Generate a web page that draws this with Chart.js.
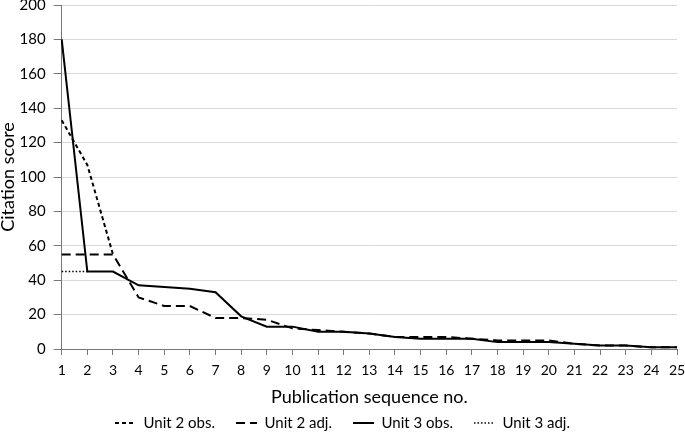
<!DOCTYPE html>
<html>
<head>
<meta charset="utf-8">
<script src="https://cdn.jsdelivr.net/npm/chart.js@4"></script>
<style>
  html, body { margin: 0; padding: 0; background: #fff; }
  #wrap { width: 685px; height: 440px; }
</style>
</head>
<body>
<div id="wrap"><canvas id="chart"></canvas></div>
<script>
// publication sequence numbers 1..25
const labels = ["1","2","3","4","5","6","7","8","9","10","11","12","13","14","15","16","17","18","19","20","21","22","23","24","25"];

// citation scores
const unit2Obs = [133, 107, 55, null, null, null, null, null, null, null, null, null, null, null, null, null, null, null, null, null, null, null, null, null, null];
const unit2Adj = [55, 55, 55, 30, 25, 25, 18, 18, 17, 12, 11, 10, 9, 7, 7, 7, 6, 5, 5, 5, 3, 2, 2, 1, 1];
const unit3Obs = [180, 45, 45, 37, 36, 35, 33, 19, 13, 13, 10, 10, 9, 7, 6, 6, 6, 4, 4, 4, 3, 2, 2, 1, 1];
const unit3Adj = [45, 45, null, null, null, null, null, null, null, null, null, null, null, null, null, null, null, null, null, null, null, null, null, null, null];

const yTicks = [0, 20, 40, 60, 80, 100, 120, 140, 160, 180, 200];

const font = "Lato, 'Open Sans', sans-serif";

new Chart(document.getElementById("chart").getContext("2d"), {
  type: "line",
  data: {
    labels: labels,
    datasets: [
      { label: "Unit 2 obs.", data: unit2Obs, borderColor: "#000", borderWidth: 2, borderDash: [4, 3] },
      { label: "Unit 2 adj.", data: unit2Adj, borderColor: "#000", borderWidth: 2, borderDash: [9, 5] },
      { label: "Unit 3 obs.", data: unit3Obs, borderColor: "#000", borderWidth: 2, borderDash: [] },
      { label: "Unit 3 adj.", data: unit3Adj, borderColor: "#000", borderWidth: 1.5, borderDash: [1.5, 2] },
    ],
  },
  options: {
    responsive: true,
    maintainAspectRatio: false,
    animation: false,
    elements: { point: { radius: 0, hoverRadius: 0 }, line: { tension: 0 } },
    layout: { padding: 0 },
    plugins: {
      tooltip: { enabled: false },
      legend: {
        position: "bottom",
        maxHeight: 45.5,
        labels: {
          color: "#000",
          font: { family: font, size: 15 },
          usePointStyle: true,
          pointStyle: "line",
          pointStyleWidth: 21,
          boxHeight: 10,
          padding: 21,
          // line samples should use each dataset's own dash pattern
          generateLabels: (chart) =>
            chart.data.datasets.map((ds, i) => ({
              text: ds.label,
              datasetIndex: i,
              fillStyle: "#000",
              strokeStyle: "#000",
              lineWidth: ds.borderWidth,
              lineDash: ds.borderDash,
              pointStyle: "line",
              fontColor: "#000",
              hidden: false,
            })),
        },
      },
    },
    scales: {
      x: {
        afterFit: (scale) => { scale.paddingRight = 8; },
        grid: { display: true, drawOnChartArea: false, drawTicks: true, tickLength: 6, tickColor: "#777", color: "#777" },
        border: { color: "#777", width: 1 },
        ticks: { color: "#000", font: { family: font, size: 14, lineHeight: 1.3 }, maxRotation: 0, autoSkip: false, padding: 6.5 },
        title: { display: true, text: "Publication sequence no.", color: "#000", font: { family: font, size: 18 }, padding: { top: 0, bottom: -13.3 } },
      },
      y: {
        min: 0,
        max: 200,
        afterBuildTicks: (axis) => { axis.ticks = yTicks.map((v) => ({ value: v })); },
        afterFit: (scale) => { scale.paddingTop = 5; },
        grid: { color: "#d9d9d9", tickLength: 8, tickColor: "#777" },
        border: { color: "#777", width: 1 },
        ticks: { color: "#000", font: { family: font, size: 15 }, padding: 8 },
        title: { display: true, text: "Citation score", color: "#000", font: { family: font, size: 18 }, padding: { top: -3, bottom: -7 } },
      },
    },
  },
});
</script>
</body>
</html>
